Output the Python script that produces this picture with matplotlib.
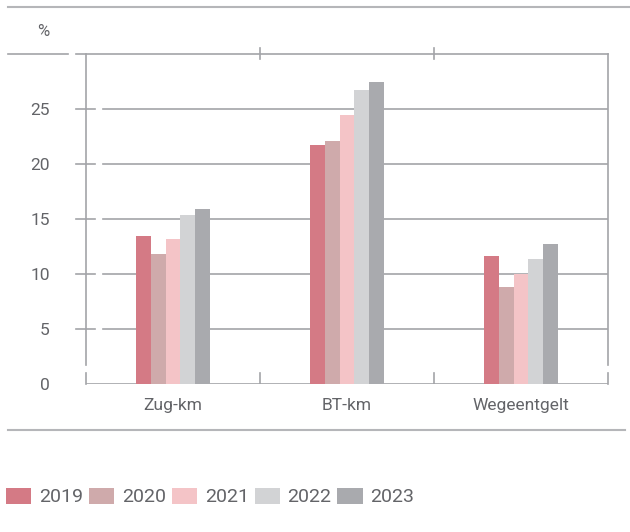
import numpy as np
import matplotlib.pyplot as plt
from matplotlib.lines import Line2D
from matplotlib.patches import Patch

categories = ["Zug-km", "BT-km", "Wegeentgelt"]
years = ["2019", "2020", "2021", "2022", "2023"]
values = {
    "2019": [13.5, 21.7, 11.6],
    "2020": [11.8, 22.1, 8.85],
    "2021": [13.15, 24.5, 10.0],
    "2022": [15.4, 26.7, 11.4],
    "2023": [15.9, 27.5, 12.7],
}
yticks = [0, 5, 10, 15, 20, 25, 30]
colors = ["#d47a85", "#cfaaab", "#f4c4c7", "#d2d3d5", "#a9aaae"]

plt.rcParams['font.family'] = ['Roboto', 'DejaVu Sans']
txt = "#636468"
grid_c = "#a3a4a8"

fig = plt.figure(figsize=(6.3, 5.32), dpi=100)
ax = fig.add_axes([86/630, 1-384/532, (608-86)/630, (384-54)/532])

x = np.arange(len(categories))
w = 0.43 / 5
for i, yr in enumerate(years):
    ax.bar(x + (i - 2) * w, values[yr], width=w, color=colors[i], zorder=3)

ax.set_xlim(-0.5, 2.5)
ax.set_ylim(0, 30)
for s in ax.spines.values():
    s.set_visible(False)
ax.set_xticks(x)
ax.set_xticklabels(categories, fontsize=12.5, color=txt)
ax.set_yticks(yticks)
ax.set_yticklabels([str(t) if t < 30 else "" for t in yticks], fontsize=12.5, color=txt)
ax.tick_params(length=0, pad=10)
ax.tick_params(axis='y', pad=26)

# gridlines (with gap near left spine) and dashed ticks
gx0 = (103-86)/(608-86)
tx0, tx1 = (76-86)/(608-86), (95-86)/(608-86)
for t in yticks:
    yy = t / 30
    lw = 1.2
    if t == 0:
        ax.plot([0, 1], [0, 0], transform=ax.transAxes, color=grid_c, lw=lw, zorder=2)
        continue
    if t == 30:
        ax.plot([tx0, 1], [1, 1], transform=ax.transAxes, color=grid_c, lw=lw, clip_on=False)
        continue
    ax.plot([gx0, 1], [yy, yy], transform=ax.transAxes, color=grid_c, lw=lw, zorder=1)
    ax.plot([tx0, tx1], [yy, yy], transform=ax.transAxes, color=grid_c, lw=lw, clip_on=False)

# side spines with small gap near bottom
gap_lo, gap_hi = (384-373)/330, (384-365)/330
for xx in [0, 1]:
    ax.plot([xx, xx], [gap_hi, 1], transform=ax.transAxes, color=grid_c, lw=1.2, clip_on=False)
    ax.plot([xx, xx], [0, gap_lo], transform=ax.transAxes, color=grid_c, lw=1.2, clip_on=False)

# category separators
for sep in [0.5, 1.5]:
    ax.plot([sep, sep], [0, 11/330*30], color=grid_c, lw=1.2)
    ax.plot([sep, sep], [30 - 5/330*30, 30 + 6/330*30], color=grid_c, lw=1.2, clip_on=False)

# figure frame lines
fig.add_artist(Line2D([8/630, 1], [1-7/532, 1-7/532], color="#b5b6b9", lw=1.5))
fig.add_artist(Line2D([8/630, 68/630], [1-54/532, 1-54/532], color=grid_c, lw=1.2))
fig.add_artist(Line2D([8/630, 625/630], [1-430/532, 1-430/532], color="#b5b6b9", lw=1.5))
fig.text(43/630, 1-31/532, "%", fontsize=12, color=txt, ha="center", va="center")

handles = [Patch(facecolor=c, label=y) for c, y in zip(colors, years)]
fig.legend(handles=handles, loc="center left", bbox_to_anchor=(0.0, 1-497/532), ncol=5,
           frameon=False, fontsize=14, labelcolor=txt, handlelength=1.3, handleheight=0.9,
           handletextpad=0.4, columnspacing=0.3, borderaxespad=0, borderpad=0.3)

fig.savefig("out.png", dpi=100)
